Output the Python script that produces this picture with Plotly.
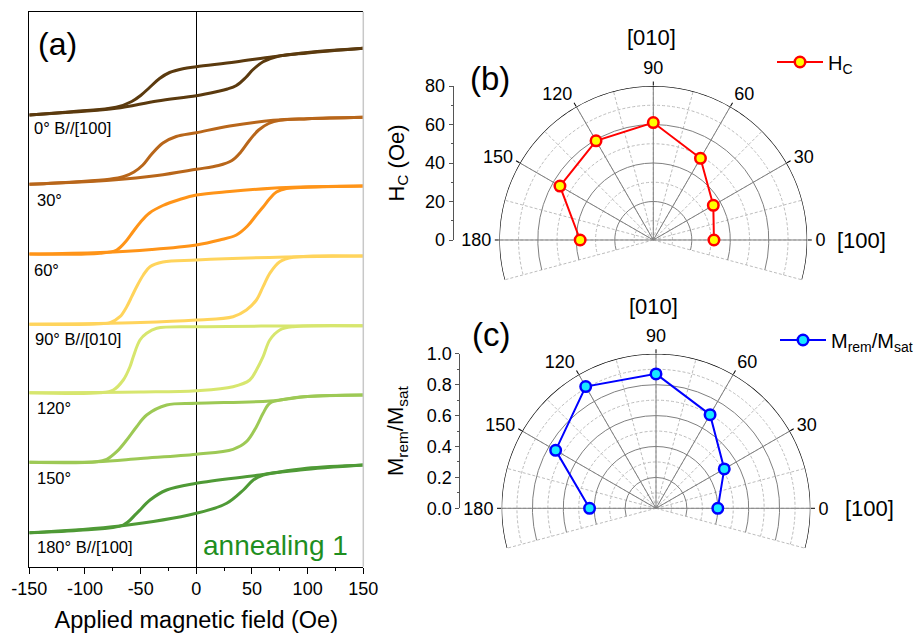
import plotly.graph_objects as go

W, H = 917, 634
FONT = "Liberation Sans, Arial, sans-serif"

# ---------------- data: hysteresis loops (panel a) ----------------
# signal values are stacked arbitrary units (axis runs downward)
angles_label = ["0° B//[100]", "30°", "60°", "90° B//[010]", "120°", "150°", "180° B//[100]"]
loop_colors = ["#5B3A0E", "#B8661A", "#FF9418", "#FFD45C", "#D7E66E", "#9DC955", "#4F9A36"]
x_tick_vals = [-150, -100, -50, 0, 50, 100, 150]
x_tick_text = ["-150", "-100", "-50", "0", "50", "100", "150"]

h_up_0 = [150, 100, 69, 35, 0, -12, -24, -33, -42, -50, -58, -72, -110, -150]
m_up_0 = [48.3, 52.5, 56.7, 62, 66.7, 68.7, 72.5, 78.5, 87.5, 95.5, 101.5, 107.3, 111.5, 115]
h_dn_0 = [-150, -110, -72, -35, 0, 18, 28, 36, 44, 51, 60, 72, 100, 150]
m_dn_0 = [115, 112, 108.3, 101, 95.7, 91.7, 89, 85.5, 78, 69.5, 61.7, 56.7, 53, 48.3]

h_up_30 = [150, 100, 69, 30, 0, -18, -30, -40, -48, -56, -65, -78, -110, -150]
m_up_30 = [117.3, 118.7, 120.3, 126, 132.7, 136.5, 143, 154, 165, 172, 176.5, 179.3, 182, 184.3]
h_dn_30 = [-150, -75, -35, 0, 20, 32, 40, 48, 56, 65, 75, 100, 150]
m_dn_30 = [184.3, 180, 175.5, 169.3, 165.5, 160.5, 152, 140, 130, 123.5, 120.3, 118.7, 117.3]

h_up_60 = [150, 81, 30, 0, -15, -30, -42, -50, -57, -63, -71.5, -86.5, -150]
m_up_60 = [186, 187.5, 191.5, 195, 199.5, 205.5, 213, 222, 232, 241, 250, 253.3, 254]
h_dn_60 = [-150, -86.5, -40, 0, 21, 36, 46, 54, 60, 66, 72, 81, 100, 150]
m_dn_60 = [254, 252.5, 249.5, 245, 240, 235, 226, 215, 207, 198.5, 192, 188.5, 187.2, 186]

h_up_90 = [150, 80, 0, -30, -41.6, -47.6, -53.6, -58, -62.5, -68.6, -77.5, -90, -150]
m_up_90 = [256, 257, 260, 262, 266.7, 275, 286.7, 296.7, 306.7, 316.7, 322.7, 324, 324.3]
h_dn_90 = [-150, -50, 0, 33, 45, 54, 60, 66, 75, 87, 150]
m_dn_90 = [324.3, 322.5, 320, 316.7, 310, 300, 286.7, 273.3, 261.7, 257.3, 256]

h_up_120 = [150, 80, 0, -35.6, -44.6, -50.6, -56.6, -59.6, -65.6, -74.6, -86.5, -150]
m_up_120 = [325.7, 326, 326.7, 328.3, 333.3, 340, 356.7, 366.7, 380, 390, 392.7, 392.7]
h_dn_120 = [-150, -50, 0, 33, 48, 54, 60, 66, 75, 87, 150]
m_dn_120 = [392.7, 392, 390.7, 386.7, 380, 370, 356.7, 340, 330, 326.7, 325.7]

h_up_150 = [150, 100, 66, 0, -26.6, -44.6, -53.6, -62.5, -71.5, -80.5, -89.5, -150]
m_up_150 = [395, 396.5, 401, 403.3, 405, 415, 426.7, 440, 451.7, 459.3, 461.7, 462.3]
h_dn_150 = [-150, -89.5, -50, 0, 33, 45, 54, 60, 66, 78, 100, 150]
m_dn_150 = [462.3, 461.7, 458.5, 454.3, 449.3, 441.7, 426.7, 413.3, 403.3, 399.5, 396.5, 395]

h_up_180 = [150, 99, 57, 0, -26.6, -41.6, -53.6, -65.6, -101.5, -150]
m_up_180 = [465, 468.3, 475, 483.3, 490, 500, 513.3, 525, 530, 532.7]
h_dn_180 = [-150, -68.6, 0, 27.3, 42.3, 51.2, 60.2, 93.2, 150]
m_dn_180 = [532.7, 526, 513.3, 503.3, 490, 480, 475, 470, 465]

loops = [
    (h_up_0, m_up_0, h_dn_0, m_dn_0),
    (h_up_30, m_up_30, h_dn_30, m_dn_30),
    (h_up_60, m_up_60, h_dn_60, m_dn_60),
    (h_up_90, m_up_90, h_dn_90, m_dn_90),
    (h_up_120, m_up_120, h_dn_120, m_dn_120),
    (h_up_150, m_up_150, h_dn_150, m_dn_150),
    (h_up_180, m_up_180, h_dn_180, m_dn_180),
]

# ---------------- data: polar panels ----------------
polar_angles = [0, 30, 60, 90, 120, 150, 180]
hc_values = [31.5, 36, 49, 61, 59.5, 56, 38]
mr_values = [0.40, 0.51, 0.70, 0.87, 0.91, 0.75, 0.43]
hc_max = 80
mr_max = 1.0
sector = [-15, 195]

# ---------------- helpers ----------------
def px(x):
    return x / W

def py(y):
    return 1 - y / H

fig = go.Figure()

# panel (a)
for (hu, mu, hd, md), col in zip(loops, loop_colors):
    for hh, mm in ((hu, mu), (hd, md)):
        fig.add_trace(go.Scatter(x=hh, y=mm, mode="lines",
                                 line=dict(color=col, width=3, shape="spline", smoothing=1.0),
                                 showlegend=False, hoverinfo="skip", xaxis="x", yaxis="y"))

# invisible anchors for the radial scale axes
for xa, ya in (("x2", "y2"), ("x3", "y3")):
    fig.add_trace(go.Scatter(x=[0], y=[0], mode="markers", marker=dict(opacity=0),
                             showlegend=False, hoverinfo="skip", xaxis=xa, yaxis=ya))

# placeholders so grid-only polar layers get drawn
for sp in ("polar", "polar2", "polar4", "polar5"):
    fig.add_trace(go.Scatterpolar(r=[0], theta=[0], mode="markers", marker=dict(opacity=0),
                                  showlegend=False, hoverinfo="skip", subplot=sp))

# outer black frame arc of each polar panel (at the radial maximum)
arc_theta = list(range(sector[0], sector[1] + 1))
for sp, rmax in (("polar3", hc_max), ("polar6", mr_max)):
    fig.add_trace(go.Scatterpolar(r=[rmax] * len(arc_theta), theta=arc_theta, mode="lines",
                                  line=dict(color="black", width=1.3),
                                  showlegend=False, hoverinfo="skip", subplot=sp))

fig.add_trace(go.Scatterpolar(r=hc_values, theta=polar_angles, mode="lines+markers",
                              name="H<sub>C</sub>", subplot="polar3", legend="legend",
                              line=dict(color="#FF0000", width=2),
                              marker=dict(size=10.5, color="#FFFF00", line=dict(color="#FF0000", width=2.5))))
fig.add_trace(go.Scatterpolar(r=mr_values, theta=polar_angles, mode="lines+markers",
                              name="M<sub>rem</sub>/M<sub>sat</sub>", subplot="polar6", legend="legend2",
                              line=dict(color="#0000FF", width=2),
                              marker=dict(size=10.5, color="#19E8FF", line=dict(color="#0000FF", width=2.5))))

# polar domains
b_cx, b_cy, b_R = 653.3, 240.0, 154.0
c_cx, c_cy, c_R = 656.0, 508.3, 154.5
s15 = 0.2588

def dom(cx, cy, R):
    return dict(x=[px(cx - R), px(cx + R)], y=[py(cy + R * s15), py(cy - R)])

minor_grid = "#BDBDBD"
major_grid = "#808080"

def minor_polar(domain, rmax, rminor):
    return dict(domain=domain, sector=sector, bgcolor="white",
                angularaxis=dict(tickmode="array", tickvals=list(range(-15, 196, 15)),
                                 showticklabels=False, ticks="", showline=False,
                                 gridcolor=minor_grid, griddash="3px,2px", gridwidth=1,
                                 rotation=0, direction="counterclockwise"),
                radialaxis=dict(range=[0, rmax], tickmode="array", tickvals=rminor, angle=180,
                                showticklabels=False, ticks="", showline=False,
                                gridcolor=minor_grid, griddash="3px,2px", gridwidth=1))

def major_polar(domain, rmax, rmajor):
    return dict(domain=domain, sector=sector, bgcolor="rgba(0,0,0,0)",
                angularaxis=dict(tickmode="array", tickvals=polar_angles,
                                 showticklabels=False, ticks="", showline=False,
                                 gridcolor=major_grid, gridwidth=1,
                                 rotation=0, direction="counterclockwise"),
                radialaxis=dict(range=[0, rmax], tickmode="array", tickvals=rmajor, angle=180,
                                showticklabels=False, ticks="", showline=False,
                                gridcolor=major_grid, gridwidth=1))

def frame_polar(domain, rmax):
    return dict(domain=domain, sector=sector, bgcolor="rgba(0,0,0,0)",
                angularaxis=dict(tickmode="array", tickvals=polar_angles,
                                 ticktext=[str(a) for a in polar_angles],
                                 tickfont=dict(size=18, color="black", family=FONT),
                                 ticks="outside", ticklen=4, tickcolor="black",
                                 showline=False, showgrid=False,
                                 rotation=0, direction="counterclockwise"),
                radialaxis=dict(range=[0, rmax], angle=180, showgrid=False,
                                showticklabels=False, ticks="", showline=False))

layout = dict(
    width=W, height=H, margin=dict(l=0, r=0, t=0, b=0, autoexpand=False),
    paper_bgcolor="white", plot_bgcolor="white",
    font=dict(family=FONT, color="black"),
    xaxis=dict(domain=[px(29.3), px(363.3)], range=[-150, 150], automargin=False,
               tickmode="array", tickvals=x_tick_vals, ticktext=x_tick_text,
               ticks="outside", ticklen=6, tickwidth=1, tickcolor="black",
               minor=dict(ticks="outside", ticklen=3, dtick=25, tick0=0, tickcolor="black"),
               showline=True, linecolor="black", linewidth=1, mirror=True,
               showgrid=False, zeroline=True, zerolinecolor="black", zerolinewidth=1,
               tickfont=dict(size=18, family=FONT, color="black"),
               title=dict(text="Applied magnetic field (Oe)", font=dict(size=23.5, family=FONT),
                          standoff=13),
               anchor="y"),
    yaxis=dict(domain=[py(566.7), py(11.7)], range=[566.7, 11.7], showticklabels=False,
               automargin=False,
               ticks="", showgrid=False, zeroline=False, showline=True, linecolor="black",
               linewidth=1, anchor="x"),
    xaxis2=dict(domain=[0.49, 0.491], visible=False, anchor="y2", automargin=False),
    yaxis2=dict(domain=[py(b_cy), py(b_cy - b_R)], range=[0, hc_max], anchor="free", automargin=False,
                position=px(452.7), dtick=20, ticks="outside", ticklen=4, tickcolor="#555",
                minor=dict(ticks="outside", ticklen=2, dtick=10, tickcolor="#555"),
                showline=True, linecolor="#555", linewidth=1, showgrid=False, zeroline=False,
                tickfont=dict(size=18, family=FONT, color="black"),
                title=dict(text="H<sub>C</sub> (Oe)", font=dict(size=22, family=FONT), standoff=13)),
    xaxis3=dict(domain=[0.49, 0.491], visible=False, anchor="y3", automargin=False),
    yaxis3=dict(domain=[py(c_cy), py(c_cy - c_R)], range=[0, mr_max], anchor="free", automargin=False,
                position=px(459.3), dtick=0.2, tickformat=".1f", ticks="outside", ticklen=4,
                tickcolor="#555",
                minor=dict(ticks="outside", ticklen=2, dtick=0.1, tickcolor="#555"),
                showline=True, linecolor="#555", linewidth=1, showgrid=False, zeroline=False,
                tickfont=dict(size=18, family=FONT, color="black"),
                title=dict(text="M<sub>rem</sub>/M<sub>sat</sub>", font=dict(size=22, family=FONT),
                           standoff=15)),
    polar=minor_polar(dom(b_cx, b_cy, b_R), hc_max, [10, 30, 50, 70]),
    polar2=major_polar(dom(b_cx, b_cy, b_R), hc_max, [20, 40, 60]),
    polar3=frame_polar(dom(b_cx, b_cy, b_R), hc_max),
    polar4=minor_polar(dom(c_cx, c_cy, c_R), mr_max, [0.1, 0.3, 0.5, 0.7, 0.9]),
    polar5=major_polar(dom(c_cx, c_cy, c_R), mr_max, [0.2, 0.4, 0.6, 0.8]),
    polar6=frame_polar(dom(c_cx, c_cy, c_R), mr_max),
    legend=dict(x=px(772), y=py(62), xanchor="left", yanchor="middle",
                bgcolor="rgba(0,0,0,0)", font=dict(size=20, family=FONT), itemwidth=46),
    legend2=dict(x=px(775), y=py(340), xanchor="left", yanchor="middle",
                 bgcolor="rgba(0,0,0,0)", font=dict(size=20, family=FONT), itemwidth=46),
)
fig.update_layout(**layout)

# right frame line of panel (a) is light gray in the original
fig.add_shape(type="line", xref="x domain", yref="y domain", x0=1, x1=1, y0=0, y1=1,
              line=dict(color="#C8C8C8", width=1.5))

annos = []
label_pos = [(32, 128.3), (35, 200), (31.7, 270), (33.3, 339.3), (35, 408.3), (35, 478.3), (35, 546.7)]
for txt, (lx, ly) in zip(angles_label, label_pos):
    annos.append(dict(text=txt, x=px(lx), y=py(ly), xanchor="left", yanchor="middle",
                      font=dict(size=16.5, family=FONT, color="black")))
annos += [
    dict(text="(a)", x=px(36), y=py(44), xanchor="left", yanchor="middle",
         font=dict(size=32, family=FONT)),
    dict(text="annealing 1", x=px(201), y=py(545), xanchor="left", yanchor="middle",
         font=dict(size=28, family=FONT, color="#1F8F1F")),
    dict(text="(b)", x=px(468), y=py(78), xanchor="left", yanchor="middle",
         font=dict(size=33, family=FONT)),
    dict(text="[010]", x=px(651), y=py(38), xanchor="center", yanchor="middle",
         font=dict(size=22, family=FONT)),
    dict(text="[100]", x=px(835), y=py(240), xanchor="left", yanchor="middle",
         font=dict(size=22, family=FONT)),
    dict(text="(c)", x=px(470), y=py(334), xanchor="left", yanchor="middle",
         font=dict(size=33, family=FONT)),
    dict(text="[010]", x=px(653), y=py(306), xanchor="center", yanchor="middle",
         font=dict(size=22, family=FONT)),
    dict(text="[100]", x=px(843), y=py(508.3), xanchor="left", yanchor="middle",
         font=dict(size=22, family=FONT)),
]
for a in annos:
    a["xref"] = "paper"
    a["yref"] = "paper"
    a["showarrow"] = False
fig.update_layout(annotations=annos)

fig.write_html("out.html")
